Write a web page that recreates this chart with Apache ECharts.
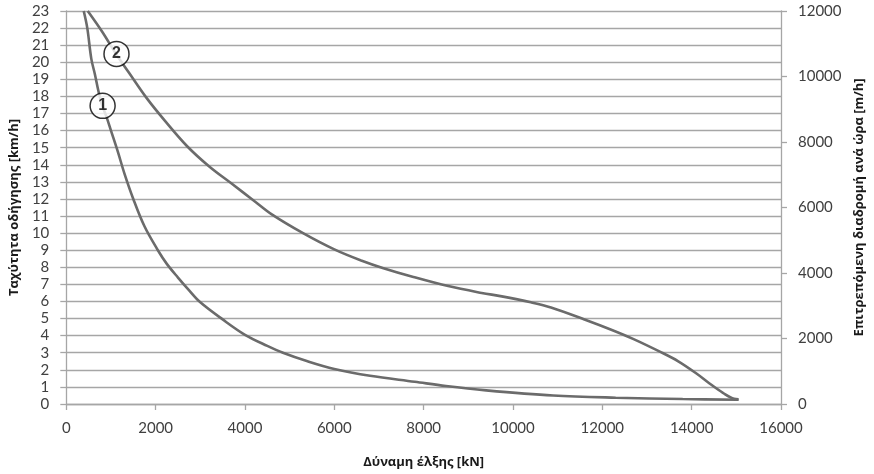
<!DOCTYPE html>
<html>
<head>
<meta charset="utf-8">
<script src="https://cdn.jsdelivr.net/npm/echarts@6/dist/echarts.min.js"></script>
<style>
html,body{margin:0;padding:0;background:#fff;}
#c{width:874px;height:474px;}
</style>
</head>
<body>
<div id="c"></div>
<script>
// Curve 1: [traction force kN, speed km/h]
const curve1 = [
  [390,23],[470,22],[560,20.2],[640,19.3],[720,18.3],[800,17.5],[900,16.8],[1000,16],
  [1150,14.8],[1300,13.5],[1500,12],[1750,10.4],[2050,9],[2250,8.2],[2500,7.4],
  [2750,6.65],[3000,5.95],[3500,4.95],[4000,4.05],[4500,3.4],[4850,3.0],[5400,2.5],
  [6000,2.05],[6800,1.65],[7800,1.3],[8500,1.05],[9400,0.8],[10900,0.5],[12300,0.37],
  [13800,0.29],[15050,0.25]
];
// Curve 2: [traction force kN, speed km/h]
const curve2 = [
  [480,23],[800,21.8],[1110,20.5],[1400,19.4],[1800,17.9],[2200,16.6],[2700,15.1],
  [3200,13.9],[3700,12.9],[4200,11.9],[4600,11.1],[5300,10.0],[6000,9.05],[6600,8.4],
  [7100,7.95],[7750,7.45],[8550,6.9],[9300,6.5],[9750,6.3],[10400,5.95],[10850,5.65],
  [11600,4.95],[12200,4.35],[12700,3.8],[13300,3.05],[13700,2.5],[14100,1.8],
  [14400,1.2],[14700,0.65],[14950,0.3],[15050,0.28]
];
// Curve markers: [x, y, label]
const markers = [[813,17.45,'1'],[1124,20.49,'2']];
const xTitle = 'Δύναμη έλξης [kN]';
const yLeftTitle = 'Ταχύτητα οδήγησης [km/h]';
const yRightTitle = 'Επιτρεπόμενη διαδρομή ανά ώρα [m/h]';

const font = 'Lato, "Open Sans", sans-serif';
const titleFont = '"Open Sans", sans-serif';
const axisGrey = '#a6a6a6';
const plain = v => String(v);
const chart = echarts.init(document.getElementById('c'));
chart.setOption({
  animation:false,
  backgroundColor:'#fff',
  grid:{left:61,right:92.3,top:11,bottom:69,containLabel:false},
  xAxis:{
    type:'value',min:0,max:16000,interval:2000,
    name:xTitle,nameLocation:'middle',nameGap:52,
    nameTextStyle:{fontFamily:titleFont,fontWeight:'bold',fontSize:13,color:'#1a1a1a'},
    axisLine:{show:true,lineStyle:{color:axisGrey,width:1.3}},
    axisTick:{show:true,length:6,lineStyle:{color:axisGrey,width:1.3}},
    axisLabel:{fontFamily:font,fontSize:15,color:'#404040',margin:17,formatter:plain},
    splitLine:{show:false}
  },
  yAxis:[{
    type:'value',min:0,max:23,interval:1,position:'left',
    name:yLeftTitle,nameLocation:'middle',nameGap:44,nameRotate:90,
    nameTextStyle:{fontFamily:titleFont,fontWeight:'bold',fontSize:13,color:'#1a1a1a'},
    axisLine:{show:true,lineStyle:{color:axisGrey,width:1.3}},
    axisTick:{show:true,length:6,lineStyle:{color:axisGrey,width:1.3}},
    axisLabel:{fontFamily:font,fontSize:15,color:'#404040',margin:17,formatter:plain},
    splitLine:{show:true,lineStyle:{color:axisGrey,width:1.3}}
  },{
    type:'value',min:0,max:12000,interval:2000,position:'right',
    name:yRightTitle,nameLocation:'middle',nameGap:72,nameRotate:90,
    nameTextStyle:{fontFamily:titleFont,fontWeight:'bold',fontSize:13,color:'#1a1a1a'},
    axisLine:{show:true,lineStyle:{color:axisGrey,width:1.3}},
    axisTick:{show:true,length:6,lineStyle:{color:axisGrey,width:1.3}},
    axisLabel:{fontFamily:font,fontSize:15,color:'#404040',margin:17,formatter:plain},
    splitLine:{show:false}
  }],
  series:[
    {type:'line',data:curve1,yAxisIndex:0,smooth:0.35,showSymbol:false,
     lineStyle:{color:'#6b6b6b',width:2.6},z:3},
    {type:'line',data:curve2,yAxisIndex:0,smooth:0.35,showSymbol:false,
     lineStyle:{color:'#6b6b6b',width:2.6},z:3},
    {type:'scatter',yAxisIndex:0,z:5,
     data:markers.map(m=>({value:[m[0],m[1]],name:m[2]})),
     symbol:'circle',symbolSize:25,
     itemStyle:{color:'#fff',borderColor:'#000',borderWidth:1.5},
     label:{show:true,position:'inside',formatter:p=>p.name,
       fontFamily:'"Liberation Sans", Arial, sans-serif',fontWeight:'bold',fontSize:16,color:'#000'}}
  ]
});
</script>
</body>
</html>
